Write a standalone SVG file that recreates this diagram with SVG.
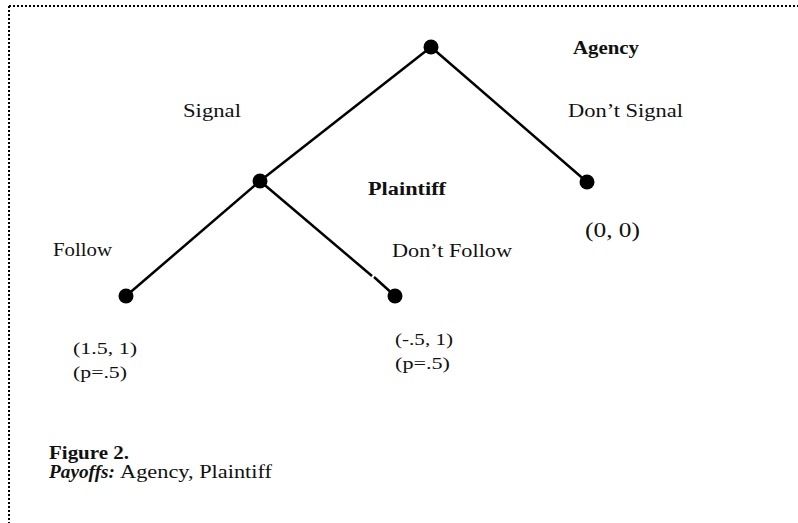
<svg xmlns="http://www.w3.org/2000/svg" width="798" height="523" viewBox="0 0 798 523">
<style>
  .lbl { font-family: "Liberation Serif", "Times New Roman", serif; font-size: 18px; fill: #111; }
  .b { font-weight: bold; }
  .num { font-family: "Liberation Serif", "Times New Roman", serif; font-size: 17px; fill: #111; }
  .edge { stroke: #000; stroke-width: 2.5; fill: none; }
  .dot { fill: #000; }
</style>
<rect width="798" height="523" fill="#fff"/>
<path d="M9,6 H800 M9,6 V525" stroke="#000" stroke-width="2" stroke-dasharray="2 2" fill="none"/>
<g id="connectors">
  <line class="edge" x1="431" y1="47" x2="260" y2="181"/>
  <line class="edge" x1="431" y1="47" x2="587" y2="182"/>
  <line class="edge" x1="260" y1="181" x2="126" y2="296"/>
  <line class="edge" x1="260" y1="181" x2="372" y2="276"/>
  <line class="edge" x1="374" y1="277" x2="395" y2="296"/>
</g>
<g id="agency">
  <circle class="dot" cx="431" cy="47" r="7.5"/>
  <text class="lbl b" x="573" y="54" textLength="66" lengthAdjust="spacingAndGlyphs">Agency</text>
</g>
<g id="signal">
  <text class="lbl" x="183" y="117" textLength="58" lengthAdjust="spacingAndGlyphs">Signal</text>
</g>
<g id="dont-signal">
  <text class="lbl" x="568" y="117" textLength="115" lengthAdjust="spacingAndGlyphs">Don’t Signal</text>
</g>
<g id="plaintiff">
  <circle class="dot" cx="260" cy="181" r="7.5"/>
  <text class="lbl b" x="368" y="195" textLength="78" lengthAdjust="spacingAndGlyphs">Plaintiff</text>
</g>
<g id="leaf-right">
  <circle class="dot" cx="587" cy="182" r="7.5"/>
  <text class="num" style="font-size:20px" x="585" y="237" textLength="55" lengthAdjust="spacingAndGlyphs">(0, 0)</text>
</g>
<g id="follow">
  <text class="lbl" x="53" y="256" textLength="59" lengthAdjust="spacingAndGlyphs">Follow</text>
</g>
<g id="dont-follow">
  <text class="lbl" x="392" y="257" textLength="120" lengthAdjust="spacingAndGlyphs">Don’t Follow</text>
</g>
<g id="leaf-left">
  <circle class="dot" cx="126" cy="296" r="7.5"/>
  <text class="num" x="73" y="354" textLength="64" lengthAdjust="spacingAndGlyphs">(1.5, 1)</text>
  <text class="num" x="73" y="378" textLength="54" lengthAdjust="spacingAndGlyphs">(p=.5)</text>
</g>
<g id="leaf-mid">
  <circle class="dot" cx="395" cy="296" r="7.5"/>
  <text class="num" x="395" y="345" textLength="58" lengthAdjust="spacingAndGlyphs">(-.5, 1)</text>
  <text class="num" x="395" y="369" textLength="55" lengthAdjust="spacingAndGlyphs">(p=.5)</text>
</g>
<g id="caption">
  <text class="lbl b" x="49" y="459" textLength="80" lengthAdjust="spacingAndGlyphs">Figure 2.</text>
  <text class="lbl b" x="49" y="478" font-style="italic" textLength="66" lengthAdjust="spacingAndGlyphs">Payoffs:</text>
  <text class="lbl" x="120" y="478" textLength="152" lengthAdjust="spacingAndGlyphs">Agency, Plaintiff</text>
</g>
</svg>
